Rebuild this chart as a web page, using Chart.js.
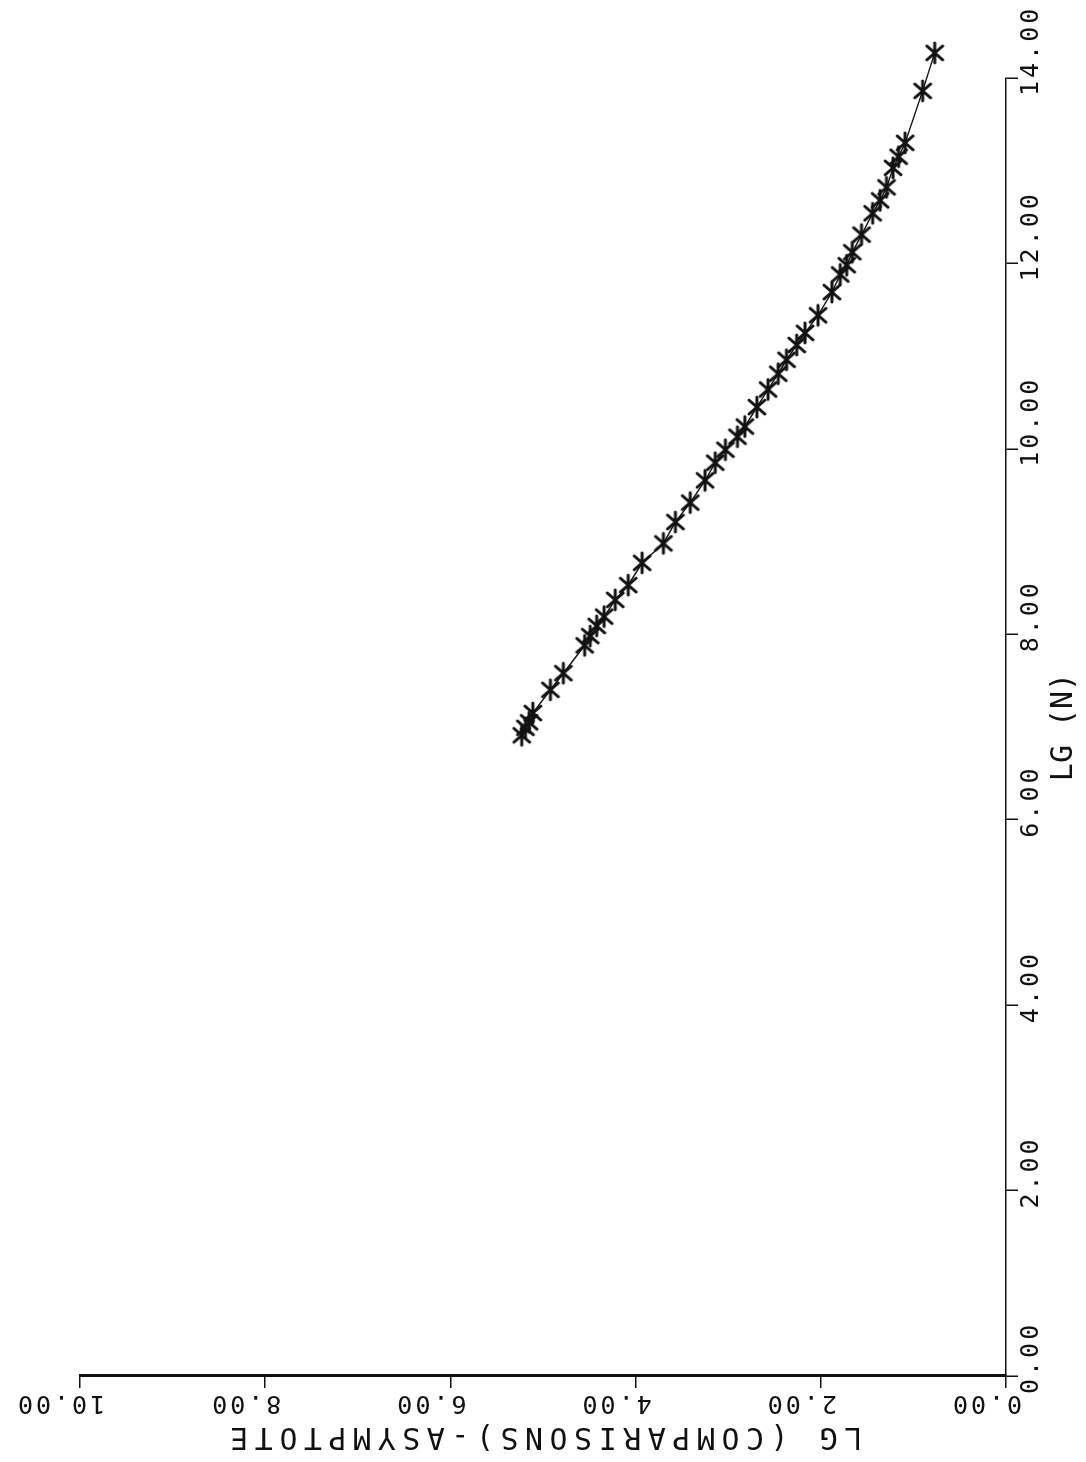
<!DOCTYPE html>
<html>
<head>
<meta charset="utf-8">
<script src="https://cdn.jsdelivr.net/npm/chart.js@4.4.1/dist/chart.umd.min.js"></script>
<style>
  html, body { margin: 0; padding: 0; background: #fff; overflow: hidden; }
  /* the plot is drawn landscape and turned a quarter turn counter-clockwise */
  #wrap {
    position: absolute; left: 0; top: 0;
    width: 1462px; height: 1086px;
    transform-origin: 0 0;
    transform: translateY(1462px) rotate(-90deg);
  }
</style>
</head>
<body>
<div id="wrap"><canvas id="plot" width="1462" height="1086"></canvas></div>
<script>
const lgN = [6.91, 6.99, 7.05, 7.15, 7.40, 7.58, 7.88, 7.98, 8.09, 8.19,
             8.37, 8.53, 8.77, 8.98, 9.21, 9.42, 9.66, 9.85, 9.99, 10.13,
             10.24, 10.45, 10.64, 10.81, 10.96, 11.12, 11.25, 11.44, 11.69, 11.88,
             11.98, 12.12, 12.31, 12.54, 12.68, 12.82, 13.03, 13.15, 13.30, 13.86,
             14.27];
const comparisons = [5.23, 5.19, 5.15, 5.11, 4.92, 4.78, 4.55, 4.49, 4.42, 4.34,
                     4.22, 4.08, 3.93, 3.70, 3.57, 3.41, 3.25, 3.14, 3.03, 2.90,
                     2.82, 2.69, 2.57, 2.46, 2.37, 2.26, 2.17, 2.03, 1.88, 1.79,
                     1.72, 1.66, 1.56, 1.44, 1.36, 1.29, 1.22, 1.16, 1.09, 0.90,
                     0.77];
const xTickLabels = ['0.00', '2.00', '4.00', '6.00', '8.00', '10.00', '12.00', '14.00'];
const yTickLabels = ['0.00', '2.00', '4.00', '6.00', '8.00', '10.00'];

const INK = '#111';
const MONO = '"DejaVu Sans Mono", "Liberation Mono", monospace';

// plotter asterisk used as point marker
function makeStar() {
    const c = document.createElement('canvas');
    c.width = 26;
    c.height = 26;
    const g = c.getContext('2d');
    g.strokeStyle = INK;
    g.lineWidth = 2.8;
    g.lineCap = 'round';
    g.beginPath();
    g.moveTo(3, 13); g.lineTo(23, 13);
    g.moveTo(6, 5); g.lineTo(20, 21);
    g.moveTo(20, 5); g.lineTo(6, 21);
    g.stroke();
    return c;
}

// wider letter spacing like the pen plotter lettering
function spacedTitle(scale, spacing) {
    if (scale._spaced) return;
    scale._spaced = true;
    const draw = scale.drawTitle;
    scale.drawTitle = function () {
        this.ctx.letterSpacing = spacing;
        draw.call(this);
        this.ctx.letterSpacing = '3px';
    };
}

const plotterText = {
    id: 'plotterText',
    beforeLayout(chart) { chart.ctx.letterSpacing = '3px'; },
    beforeDraw(chart) { chart.ctx.letterSpacing = '3px'; },
    // the last point lies past the 14.00 end of the axis; chart.js skips it otherwise
    afterDatasetsDraw(chart) {
        const area = { left: 0, top: 0, right: chart.width, bottom: chart.height };
        const ca = chart.chartArea;
        chart.getDatasetMeta(0).data.forEach(pt => {
            if (pt.x > ca.right + 12 || pt.y < ca.top - 12) pt.draw(chart.ctx, area);
        });
    }
};

const points = lgN.map((x, i) => ({ x: x, y: comparisons[i] }));

new Chart(document.getElementById('plot'), {
    type: 'scatter',
    data: {
        datasets: [{
            data: points,
            showLine: true,
            borderColor: INK,
            borderWidth: 1.4,
            pointStyle: makeStar(),
            pointRadius: 10,
            clip: false
        }]
    },
    options: {
        responsive: false,
        animation: false,
        devicePixelRatio: 1,
        layout: { padding: { top: 80, right: 78, bottom: 0, left: 0 } },
        plugins: {
            legend: { display: false },
            tooltip: { enabled: false }
        },
        scales: {
            x: {
                type: 'linear',
                min: 0,
                max: 14,
                grid: { drawOnChartArea: false, tickLength: 12, color: INK, lineWidth: 1.5 },
                border: { display: true, color: INK, width: 1.5 },
                ticks: {
                    stepSize: 2,
                    minRotation: 0,
                    maxRotation: 0,
                    align: 'start',
                    labelOffset: -18,
                    padding: -2,
                    color: INK,
                    font: { family: MONO, size: 25 },
                    callback: (v, i) => xTickLabels[i]
                },
                title: {
                    display: true,
                    text: 'LG (N)',
                    color: INK,
                    font: { family: MONO, size: 30 },
                    padding: { top: 4, bottom: 4 }
                },
                afterFit(scale) {
                    scale.height = 80;
                    scale.paddingLeft = 0;
                    scale.paddingRight = 0;
                    spacedTitle(scale, '0px');
                }
            },
            y: {
                type: 'linear',
                min: 0,
                max: 10,
                grid: { drawOnChartArea: false, tickLength: 12, color: INK, lineWidth: 1.5 },
                border: { display: true, color: INK, width: 3 },
                ticks: {
                    stepSize: 2,
                    minRotation: 90,
                    maxRotation: 90,
                    crossAlign: 'center',
                    labelOffset: -20,
                    padding: -31,
                    color: INK,
                    font: { family: MONO, size: 25 },
                    callback: (v, i) => yTickLabels[i]
                },
                title: {
                    display: true,
                    text: 'LG (COMPARISONS)-ASYMPTOTE',
                    color: INK,
                    font: { family: MONO, size: 30 },
                    padding: { top: 8, bottom: 8 }
                },
                afterFit(scale) {
                    scale.width = 86;
                    scale.paddingTop = 0;
                    scale.paddingBottom = 0;
                    spacedTitle(scale, '6.5px');
                }
            }
        }
    },
    plugins: [plotterText]
});
</script>
</body>
</html>
